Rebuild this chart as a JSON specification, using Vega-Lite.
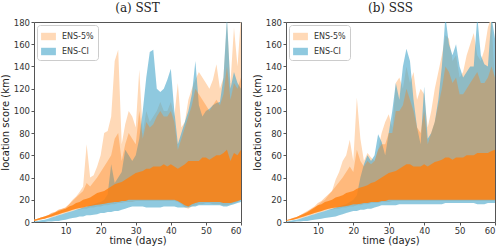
{
  "$schema": "https://vega.github.io/schema/vega-lite/v6.json",
  "padding": {"left": 0, "top": 1, "right": 0, "bottom": 0},
  "background": "white",
  "config": {
    "view": {"stroke": "#555", "strokeWidth": 1},
    "axis": {"labelFont": "DejaVu Sans", "labelFontSize": 8.5, "labelColor": "#333", "titleFont": "DejaVu Sans", "titleFontSize": 10, "titleFontWeight": "normal", "titleColor": "#222", "tickColor": "#555", "tickSize": 3, "labelPadding": 1.5, "titlePadding": 2.5, "domain": false, "grid": false, "labelOverlap": false},
    "axisX": {"labelPadding": 1, "titlePadding": 1},
    "title": {"font": "DejaVu Serif", "fontSize": 12, "fontWeight": "normal", "color": "#222", "offset": 3},
    "legend": {"orient": "top-left", "symbolType": "M-1,-0.5L1,-0.5L1,0.5L-1,0.5Z", "symbolSize": 220, "labelFont": "DejaVu Sans", "labelFontSize": 8, "labelColor": "#333", "fillColor": "white", "strokeColor": "#ccc", "cornerRadius": 3, "padding": 4, "offset": 3, "rowPadding": 3, "symbolStrokeWidth": 0, "labelOffset": 6},
    "concat": {"spacing": 10}
  },
  "data": {"values": [
    {"panel":"a","day":1,"o_lo":1,"o_hi":2,"b_lo":0,"b_hi":0.5,"l_lo":1,"c_hi":2,"m_hi":2},
    {"panel":"a","day":2,"o_lo":1.5,"o_hi":3,"b_lo":0,"b_hi":1,"l_lo":1.5,"c_hi":3,"m_hi":3},
    {"panel":"a","day":3,"o_lo":2,"o_hi":4,"b_lo":0,"b_hi":1.5,"l_lo":2.5,"c_hi":4,"m_hi":4},
    {"panel":"a","day":4,"o_lo":3,"o_hi":5,"b_lo":0,"b_hi":2,"l_lo":3,"c_hi":5,"m_hi":5},
    {"panel":"a","day":5,"o_lo":3.5,"o_hi":6,"b_lo":0.5,"b_hi":3,"l_lo":4,"c_hi":6,"m_hi":6},
    {"panel":"a","day":6,"o_lo":4,"o_hi":8,"b_lo":0.5,"b_hi":4,"l_lo":5,"c_hi":7,"m_hi":8},
    {"panel":"a","day":7,"o_lo":5,"o_hi":9,"b_lo":1,"b_hi":5,"l_lo":6,"c_hi":8.5,"m_hi":9},
    {"panel":"a","day":8,"o_lo":6,"o_hi":11,"b_lo":1,"b_hi":6,"l_lo":7,"c_hi":10,"m_hi":11},
    {"panel":"a","day":9,"o_lo":7,"o_hi":12,"b_lo":1.5,"b_hi":7,"l_lo":8,"c_hi":11,"m_hi":12},
    {"panel":"a","day":10,"o_lo":8,"o_hi":13,"b_lo":2,"b_hi":8,"l_lo":9,"c_hi":12,"m_hi":13},
    {"panel":"a","day":11,"o_lo":9,"o_hi":16,"b_lo":3,"b_hi":9,"l_lo":10,"c_hi":14,"m_hi":16},
    {"panel":"a","day":12,"o_lo":10,"o_hi":20,"b_lo":3.5,"b_hi":10,"l_lo":11,"c_hi":15,"m_hi":19},
    {"panel":"a","day":13,"o_lo":11,"o_hi":23,"b_lo":4,"b_hi":11,"l_lo":12,"c_hi":17,"m_hi":22},
    {"panel":"a","day":14,"o_lo":11,"o_hi":27,"b_lo":5,"b_hi":12,"l_lo":12.5,"c_hi":18,"m_hi":25},
    {"panel":"a","day":15,"o_lo":12,"o_hi":32,"b_lo":5,"b_hi":13,"l_lo":13,"c_hi":20,"m_hi":28},
    {"panel":"a","day":16,"o_lo":12,"o_hi":70,"b_lo":6,"b_hi":14,"l_lo":14,"c_hi":21,"m_hi":35},
    {"panel":"a","day":17,"o_lo":13,"o_hi":40,"b_lo":6,"b_hi":15,"l_lo":14.5,"c_hi":22,"m_hi":32},
    {"panel":"a","day":18,"o_lo":13,"o_hi":42,"b_lo":6.5,"b_hi":16,"l_lo":15,"c_hi":24,"m_hi":36},
    {"panel":"a","day":19,"o_lo":14,"o_hi":50,"b_lo":7,"b_hi":17,"l_lo":15.5,"c_hi":26,"m_hi":40},
    {"panel":"a","day":20,"o_lo":14,"o_hi":60,"b_lo":8,"b_hi":18,"l_lo":16,"c_hi":27,"m_hi":45},
    {"panel":"a","day":21,"o_lo":15,"o_hi":80,"b_lo":8,"b_hi":20,"l_lo":16.5,"c_hi":28,"m_hi":50},
    {"panel":"a","day":22,"o_lo":15,"o_hi":82,"b_lo":9,"b_hi":25,"l_lo":17,"c_hi":30,"m_hi":55},
    {"panel":"a","day":23,"o_lo":16,"o_hi":95,"b_lo":9,"b_hi":52,"l_lo":17.5,"c_hi":32,"m_hi":60},
    {"panel":"a","day":24,"o_lo":16,"o_hi":145,"b_lo":10,"b_hi":35,"l_lo":18,"c_hi":34,"m_hi":75},
    {"panel":"a","day":25,"o_lo":17,"o_hi":155,"b_lo":10,"b_hi":40,"l_lo":18,"c_hi":35,"m_hi":80},
    {"panel":"a","day":26,"o_lo":17,"o_hi":70,"b_lo":11,"b_hi":45,"l_lo":19,"c_hi":36,"m_hi":55},
    {"panel":"a","day":27,"o_lo":18,"o_hi":88,"b_lo":12,"b_hi":65,"l_lo":19,"c_hi":38,"m_hi":70},
    {"panel":"a","day":28,"o_lo":18,"o_hi":100,"b_lo":13,"b_hi":60,"l_lo":20,"c_hi":40,"m_hi":80},
    {"panel":"a","day":29,"o_lo":18,"o_hi":95,"b_lo":14,"b_hi":55,"l_lo":20,"c_hi":42,"m_hi":75},
    {"panel":"a","day":30,"o_lo":19,"o_hi":85,"b_lo":14,"b_hi":60,"l_lo":20,"c_hi":44,"m_hi":70},
    {"panel":"a","day":31,"o_lo":19,"o_hi":137,"b_lo":14,"b_hi":75,"l_lo":20,"c_hi":45,"m_hi":100},
    {"panel":"a","day":32,"o_lo":19,"o_hi":80,"b_lo":14,"b_hi":100,"l_lo":20,"c_hi":46,"m_hi":75},
    {"panel":"a","day":33,"o_lo":19,"o_hi":100,"b_lo":13,"b_hi":130,"l_lo":20,"c_hi":48,"m_hi":90},
    {"panel":"a","day":34,"o_lo":19,"o_hi":90,"b_lo":13,"b_hi":153,"l_lo":20,"c_hi":48,"m_hi":85},
    {"panel":"a","day":35,"o_lo":19,"o_hi":95,"b_lo":13,"b_hi":155,"l_lo":20,"c_hi":50,"m_hi":88},
    {"panel":"a","day":36,"o_lo":19,"o_hi":100,"b_lo":13,"b_hi":120,"l_lo":20,"c_hi":50,"m_hi":95},
    {"panel":"a","day":37,"o_lo":19,"o_hi":108,"b_lo":13,"b_hi":117,"l_lo":20,"c_hi":50,"m_hi":100},
    {"panel":"a","day":38,"o_lo":19,"o_hi":100,"b_lo":14,"b_hi":120,"l_lo":20,"c_hi":52,"m_hi":95},
    {"panel":"a","day":39,"o_lo":19,"o_hi":100,"b_lo":14,"b_hi":128,"l_lo":20,"c_hi":50,"m_hi":95},
    {"panel":"a","day":40,"o_lo":19,"o_hi":108,"b_lo":14,"b_hi":138,"l_lo":20,"c_hi":52,"m_hi":100},
    {"panel":"a","day":41,"o_lo":19,"o_hi":95,"b_lo":14,"b_hi":100,"l_lo":20,"c_hi":50,"m_hi":90},
    {"panel":"a","day":42,"o_lo":18,"o_hi":125,"b_lo":13,"b_hi":70,"l_lo":19,"c_hi":48,"m_hi":65},
    {"panel":"a","day":43,"o_lo":16,"o_hi":85,"b_lo":13,"b_hi":80,"l_lo":17,"c_hi":50,"m_hi":75},
    {"panel":"a","day":44,"o_lo":13,"o_hi":90,"b_lo":13,"b_hi":90,"l_lo":15,"c_hi":52,"m_hi":85},
    {"panel":"a","day":45,"o_lo":12,"o_hi":110,"b_lo":13,"b_hi":100,"l_lo":14,"c_hi":55,"m_hi":95},
    {"panel":"a","day":46,"o_lo":14,"o_hi":120,"b_lo":14,"b_hi":115,"l_lo":16,"c_hi":55,"m_hi":105},
    {"panel":"a","day":47,"o_lo":15,"o_hi":128,"b_lo":14,"b_hi":145,"l_lo":17,"c_hi":55,"m_hi":120},
    {"panel":"a","day":48,"o_lo":16,"o_hi":135,"b_lo":15,"b_hi":105,"l_lo":18,"c_hi":55,"m_hi":115},
    {"panel":"a","day":49,"o_lo":16,"o_hi":130,"b_lo":15,"b_hi":95,"l_lo":18,"c_hi":58,"m_hi":110},
    {"panel":"a","day":50,"o_lo":17,"o_hi":125,"b_lo":15,"b_hi":100,"l_lo":18,"c_hi":58,"m_hi":105},
    {"panel":"a","day":51,"o_lo":17,"o_hi":120,"b_lo":15,"b_hi":102,"l_lo":18,"c_hi":56,"m_hi":100},
    {"panel":"a","day":52,"o_lo":16,"o_hi":128,"b_lo":15,"b_hi":105,"l_lo":18,"c_hi":58,"m_hi":105},
    {"panel":"a","day":53,"o_lo":16,"o_hi":142,"b_lo":15,"b_hi":107,"l_lo":18,"c_hi":60,"m_hi":110},
    {"panel":"a","day":54,"o_lo":16,"o_hi":120,"b_lo":15,"b_hi":108,"l_lo":18,"c_hi":60,"m_hi":105},
    {"panel":"a","day":55,"o_lo":15,"o_hi":130,"b_lo":14,"b_hi":130,"l_lo":17,"c_hi":62,"m_hi":115},
    {"panel":"a","day":56,"o_lo":15,"o_hi":180,"b_lo":14,"b_hi":185,"l_lo":17,"c_hi":65,"m_hi":140},
    {"panel":"a","day":57,"o_lo":16,"o_hi":125,"b_lo":15,"b_hi":120,"l_lo":17,"c_hi":55,"m_hi":110},
    {"panel":"a","day":58,"o_lo":17,"o_hi":175,"b_lo":16,"b_hi":135,"l_lo":18,"c_hi":62,"m_hi":125},
    {"panel":"a","day":59,"o_lo":18,"o_hi":140,"b_lo":17,"b_hi":125,"l_lo":19,"c_hi":60,"m_hi":120},
    {"panel":"a","day":60,"o_lo":20,"o_hi":185,"b_lo":18,"b_hi":120,"l_lo":20,"c_hi":65,"m_hi":130},
    {"panel":"b","day":1,"o_lo":1,"o_hi":1,"b_lo":0,"b_hi":0.5,"l_lo":1,"c_hi":1.5,"m_hi":1.5},
    {"panel":"b","day":2,"o_lo":1.5,"o_hi":2,"b_lo":0,"b_hi":1,"l_lo":1.5,"c_hi":2.5,"m_hi":2.5},
    {"panel":"b","day":3,"o_lo":2,"o_hi":3,"b_lo":0,"b_hi":1.5,"l_lo":2,"c_hi":3.5,"m_hi":3.5},
    {"panel":"b","day":4,"o_lo":2.5,"o_hi":4,"b_lo":0.5,"b_hi":2,"l_lo":3,"c_hi":4.5,"m_hi":4.5},
    {"panel":"b","day":5,"o_lo":3,"o_hi":5,"b_lo":0.5,"b_hi":3,"l_lo":4,"c_hi":6,"m_hi":6},
    {"panel":"b","day":6,"o_lo":4,"o_hi":6.5,"b_lo":1,"b_hi":4,"l_lo":5,"c_hi":7.5,"m_hi":8},
    {"panel":"b","day":7,"o_lo":5,"o_hi":8,"b_lo":1,"b_hi":5,"l_lo":6,"c_hi":9,"m_hi":10},
    {"panel":"b","day":8,"o_lo":6,"o_hi":10,"b_lo":1.5,"b_hi":6,"l_lo":7,"c_hi":11,"m_hi":12},
    {"panel":"b","day":9,"o_lo":7,"o_hi":12,"b_lo":2,"b_hi":7,"l_lo":8,"c_hi":13,"m_hi":14},
    {"panel":"b","day":10,"o_lo":8,"o_hi":15,"b_lo":2.5,"b_hi":8,"l_lo":9,"c_hi":15,"m_hi":17},
    {"panel":"b","day":11,"o_lo":9,"o_hi":18,"b_lo":3,"b_hi":9,"l_lo":10,"c_hi":16,"m_hi":19},
    {"panel":"b","day":12,"o_lo":10,"o_hi":20,"b_lo":3.5,"b_hi":10,"l_lo":11,"c_hi":18,"m_hi":22},
    {"panel":"b","day":13,"o_lo":11,"o_hi":24,"b_lo":4,"b_hi":11,"l_lo":12,"c_hi":19,"m_hi":25},
    {"panel":"b","day":14,"o_lo":11,"o_hi":28,"b_lo":4.5,"b_hi":12,"l_lo":12.5,"c_hi":20,"m_hi":28},
    {"panel":"b","day":15,"o_lo":12,"o_hi":38,"b_lo":5,"b_hi":13,"l_lo":13,"c_hi":22,"m_hi":32},
    {"panel":"b","day":16,"o_lo":12,"o_hi":45,"b_lo":6,"b_hi":14,"l_lo":13.5,"c_hi":23,"m_hi":36},
    {"panel":"b","day":17,"o_lo":13,"o_hi":55,"b_lo":7,"b_hi":15,"l_lo":14,"c_hi":24,"m_hi":40},
    {"panel":"b","day":18,"o_lo":13,"o_hi":60,"b_lo":8,"b_hi":16,"l_lo":14.5,"c_hi":26,"m_hi":45},
    {"panel":"b","day":19,"o_lo":14,"o_hi":74,"b_lo":9,"b_hi":18,"l_lo":15,"c_hi":27,"m_hi":50},
    {"panel":"b","day":20,"o_lo":14,"o_hi":55,"b_lo":10,"b_hi":20,"l_lo":16,"c_hi":28,"m_hi":45},
    {"panel":"b","day":21,"o_lo":15,"o_hi":112,"b_lo":10,"b_hi":24,"l_lo":16,"c_hi":30,"m_hi":65},
    {"panel":"b","day":22,"o_lo":15,"o_hi":75,"b_lo":11,"b_hi":40,"l_lo":16.5,"c_hi":31,"m_hi":55},
    {"panel":"b","day":23,"o_lo":16,"o_hi":55,"b_lo":11,"b_hi":52,"l_lo":17,"c_hi":32,"m_hi":50},
    {"panel":"b","day":24,"o_lo":16,"o_hi":62,"b_lo":12,"b_hi":60,"l_lo":17,"c_hi":33,"m_hi":55},
    {"panel":"b","day":25,"o_lo":17,"o_hi":58,"b_lo":12,"b_hi":55,"l_lo":18,"c_hi":35,"m_hi":52},
    {"panel":"b","day":26,"o_lo":17,"o_hi":55,"b_lo":13,"b_hi":60,"l_lo":18,"c_hi":36,"m_hi":55},
    {"panel":"b","day":27,"o_lo":17,"o_hi":65,"b_lo":14,"b_hi":79,"l_lo":18,"c_hi":38,"m_hi":65},
    {"panel":"b","day":28,"o_lo":18,"o_hi":80,"b_lo":15,"b_hi":72,"l_lo":19,"c_hi":40,"m_hi":70},
    {"panel":"b","day":29,"o_lo":18,"o_hi":90,"b_lo":15,"b_hi":60,"l_lo":19,"c_hi":42,"m_hi":70},
    {"panel":"b","day":30,"o_lo":18,"o_hi":97,"b_lo":15,"b_hi":80,"l_lo":20,"c_hi":44,"m_hi":80},
    {"panel":"b","day":31,"o_lo":19,"o_hi":85,"b_lo":15,"b_hi":100,"l_lo":20,"c_hi":45,"m_hi":80},
    {"panel":"b","day":32,"o_lo":19,"o_hi":125,"b_lo":15,"b_hi":125,"l_lo":20,"c_hi":46,"m_hi":100},
    {"panel":"b","day":33,"o_lo":19,"o_hi":130,"b_lo":16,"b_hi":110,"l_lo":20,"c_hi":48,"m_hi":100},
    {"panel":"b","day":34,"o_lo":19,"o_hi":120,"b_lo":16,"b_hi":140,"l_lo":20,"c_hi":50,"m_hi":105},
    {"panel":"b","day":35,"o_lo":19,"o_hi":140,"b_lo":16,"b_hi":156,"l_lo":20,"c_hi":52,"m_hi":120},
    {"panel":"b","day":36,"o_lo":19,"o_hi":125,"b_lo":16,"b_hi":145,"l_lo":20,"c_hi":52,"m_hi":110},
    {"panel":"b","day":37,"o_lo":19,"o_hi":135,"b_lo":16,"b_hi":110,"l_lo":20,"c_hi":50,"m_hi":100},
    {"panel":"b","day":38,"o_lo":19,"o_hi":110,"b_lo":16,"b_hi":85,"l_lo":20,"c_hi":50,"m_hi":85},
    {"panel":"b","day":39,"o_lo":19,"o_hi":120,"b_lo":16,"b_hi":70,"l_lo":20,"c_hi":50,"m_hi":80},
    {"panel":"b","day":40,"o_lo":19,"o_hi":115,"b_lo":16,"b_hi":122,"l_lo":20,"c_hi":52,"m_hi":100},
    {"panel":"b","day":41,"o_lo":19,"o_hi":85,"b_lo":16,"b_hi":75,"l_lo":20,"c_hi":50,"m_hi":70},
    {"panel":"b","day":42,"o_lo":19,"o_hi":100,"b_lo":16,"b_hi":80,"l_lo":20,"c_hi":52,"m_hi":80},
    {"panel":"b","day":43,"o_lo":19,"o_hi":120,"b_lo":16,"b_hi":90,"l_lo":20,"c_hi":54,"m_hi":90},
    {"panel":"b","day":44,"o_lo":19,"o_hi":135,"b_lo":16,"b_hi":110,"l_lo":20,"c_hi":55,"m_hi":105},
    {"panel":"b","day":45,"o_lo":19,"o_hi":150,"b_lo":16,"b_hi":140,"l_lo":20,"c_hi":56,"m_hi":120},
    {"panel":"b","day":46,"o_lo":19,"o_hi":168,"b_lo":17,"b_hi":185,"l_lo":20,"c_hi":58,"m_hi":140},
    {"panel":"b","day":47,"o_lo":19,"o_hi":165,"b_lo":17,"b_hi":160,"l_lo":20,"c_hi":58,"m_hi":135},
    {"panel":"b","day":48,"o_lo":19,"o_hi":145,"b_lo":17,"b_hi":150,"l_lo":20,"c_hi":56,"m_hi":125},
    {"panel":"b","day":49,"o_lo":19,"o_hi":150,"b_lo":17,"b_hi":160,"l_lo":20,"c_hi":58,"m_hi":130},
    {"panel":"b","day":50,"o_lo":19,"o_hi":130,"b_lo":17,"b_hi":140,"l_lo":20,"c_hi":58,"m_hi":115},
    {"panel":"b","day":51,"o_lo":19,"o_hi":135,"b_lo":17,"b_hi":130,"l_lo":20,"c_hi":58,"m_hi":115},
    {"panel":"b","day":52,"o_lo":19,"o_hi":150,"b_lo":17,"b_hi":135,"l_lo":20,"c_hi":60,"m_hi":120},
    {"panel":"b","day":53,"o_lo":19,"o_hi":160,"b_lo":17,"b_hi":140,"l_lo":20,"c_hi":60,"m_hi":125},
    {"panel":"b","day":54,"o_lo":19,"o_hi":170,"b_lo":17,"b_hi":140,"l_lo":20,"c_hi":60,"m_hi":130},
    {"panel":"b","day":55,"o_lo":19,"o_hi":150,"b_lo":16,"b_hi":185,"l_lo":20,"c_hi":62,"m_hi":135},
    {"panel":"b","day":56,"o_lo":19,"o_hi":145,"b_lo":16,"b_hi":150,"l_lo":20,"c_hi":62,"m_hi":125},
    {"panel":"b","day":57,"o_lo":19,"o_hi":155,"b_lo":16,"b_hi":142,"l_lo":20,"c_hi":62,"m_hi":125},
    {"panel":"b","day":58,"o_lo":19,"o_hi":175,"b_lo":17,"b_hi":140,"l_lo":20,"c_hi":62,"m_hi":130},
    {"panel":"b","day":59,"o_lo":19,"o_hi":185,"b_lo":17,"b_hi":185,"l_lo":20,"c_hi":64,"m_hi":140},
    {"panel":"b","day":60,"o_lo":19,"o_hi":120,"b_lo":17,"b_hi":165,"l_lo":20,"c_hi":65,"m_hi":130}
  ]},
  "resolve": {"legend": {"color": "independent"}},
  "hconcat": [
    {
      "title": "(a) SST",
      "width": 207, "height": 200,
      "transform": [{"filter": "datum.panel == 'a'"}],
      "encoding": {"x": {"field": "day", "type": "quantitative", "scale": {"domain": [1, 60], "nice": false, "zero": false}, "axis": {"values": [10, 20, 30, 40, 50, 60], "title": "time (days)"}}},
      "layer": [
        {"mark": {"type": "area", "clip": true}, "encoding": {"y": {"field": "o_lo", "type": "quantitative", "scale": {"domain": [0, 180], "nice": false}, "axis": {"values": [0, 20, 40, 60, 80, 100, 120, 140, 160, 180], "tickCount": 10, "title": "location score (km)"}}, "y2": {"field": "o_hi"}, "color": {"datum": "ENS-5%", "type": "nominal", "scale": {"domain": ["ENS-5%", "ENS-CI"], "range": ["#ffd9b7", "rgba(74,168,204,0.62)"]}, "legend": {"title": null}}}},
        {"mark": {"type": "area", "clip": true}, "encoding": {"y": {"field": "b_lo", "type": "quantitative", "axis": {"values": [0, 20, 40, 60, 80, 100, 120, 140, 160, 180], "tickCount": 10, "title": "location score (km)"}}, "y2": {"field": "b_hi"}, "color": {"datum": "ENS-CI", "type": "nominal"}}},
        {"mark": {"type": "area", "clip": true, "color": "#ff7f0e", "opacity": 0.35}, "encoding": {"y": {"field": "l_lo", "type": "quantitative", "axis": {"values": [0, 20, 40, 60, 80, 100, 120, 140, 160, 180], "tickCount": 10, "title": "location score (km)"}}, "y2": {"field": "m_hi"}}},
        {"mark": {"type": "area", "clip": true, "color": "#ff7f0e", "opacity": 0.8}, "encoding": {"y": {"field": "l_lo", "type": "quantitative", "axis": {"values": [0, 20, 40, 60, 80, 100, 120, 140, 160, 180], "tickCount": 10, "title": "location score (km)"}}, "y2": {"field": "c_hi"}}}
      ]
    },
    {
      "title": "(b) SSS",
      "width": 209, "height": 200,
      "transform": [{"filter": "datum.panel == 'b'"}],
      "encoding": {"x": {"field": "day", "type": "quantitative", "scale": {"domain": [1, 60], "nice": false, "zero": false}, "axis": {"values": [10, 20, 30, 40, 50, 60], "title": "time (days)"}}},
      "layer": [
        {"mark": {"type": "area", "clip": true}, "encoding": {"y": {"field": "o_lo", "type": "quantitative", "scale": {"domain": [0, 180], "nice": false}, "axis": {"values": [0, 20, 40, 60, 80, 100, 120, 140, 160, 180], "tickCount": 10, "title": "location score (km)"}}, "y2": {"field": "o_hi"}, "color": {"datum": "ENS-5%", "type": "nominal", "scale": {"domain": ["ENS-5%", "ENS-CI"], "range": ["#ffd9b7", "rgba(74,168,204,0.62)"]}, "legend": {"title": null}}}},
        {"mark": {"type": "area", "clip": true}, "encoding": {"y": {"field": "b_lo", "type": "quantitative", "axis": {"values": [0, 20, 40, 60, 80, 100, 120, 140, 160, 180], "tickCount": 10, "title": "location score (km)"}}, "y2": {"field": "b_hi"}, "color": {"datum": "ENS-CI", "type": "nominal"}}},
        {"mark": {"type": "area", "clip": true, "color": "#ff7f0e", "opacity": 0.35}, "encoding": {"y": {"field": "l_lo", "type": "quantitative", "axis": {"values": [0, 20, 40, 60, 80, 100, 120, 140, 160, 180], "tickCount": 10, "title": "location score (km)"}}, "y2": {"field": "m_hi"}}},
        {"mark": {"type": "area", "clip": true, "color": "#ff7f0e", "opacity": 0.8}, "encoding": {"y": {"field": "l_lo", "type": "quantitative", "axis": {"values": [0, 20, 40, 60, 80, 100, 120, 140, 160, 180], "tickCount": 10, "title": "location score (km)"}}, "y2": {"field": "c_hi"}}}
      ]
    }
  ]
}
